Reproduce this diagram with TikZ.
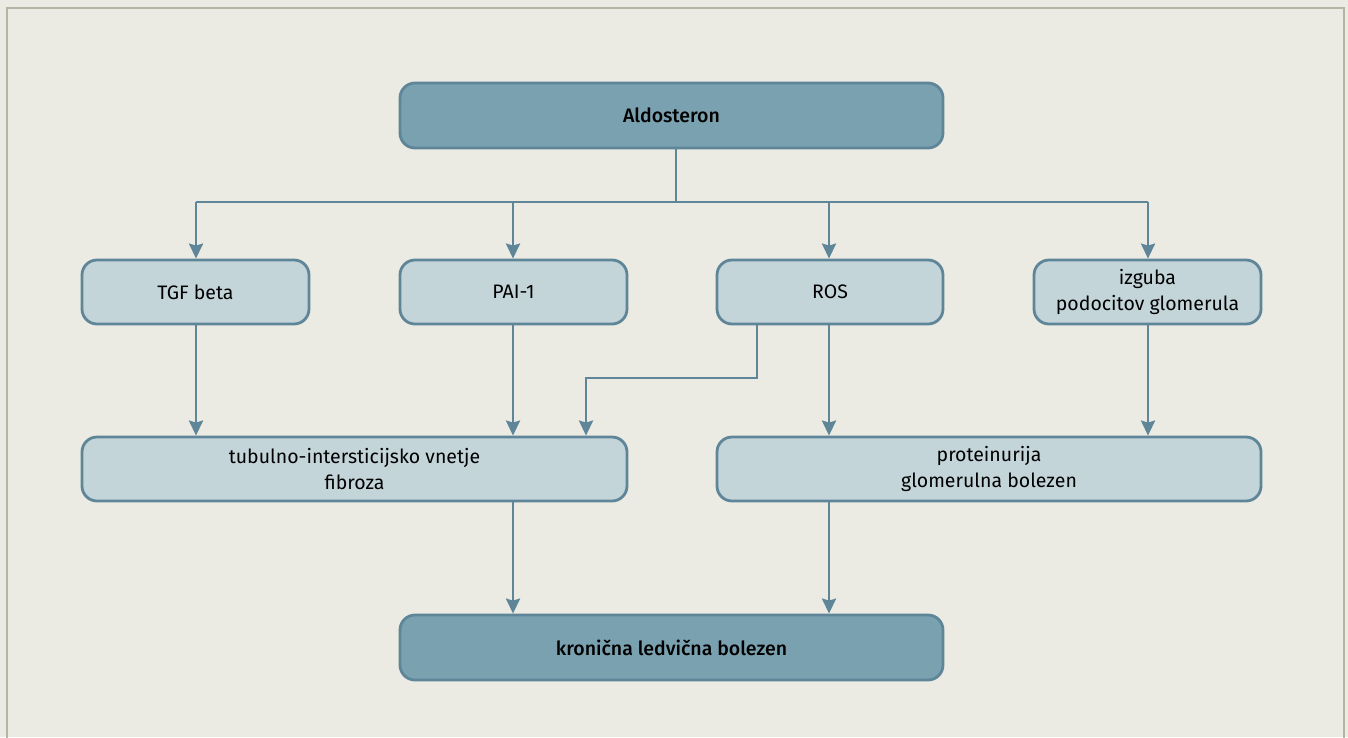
\documentclass[tikz,border=0pt]{standalone}
\usepackage{fontspec}
\setmainfont{Fira Sans}[BoldFont={Fira Sans Medium}]
\usetikzlibrary{arrows.meta}
\definecolor{bgc}{HTML}{EBEBE3}
\definecolor{framec}{HTML}{B5B5A5}
\definecolor{darkfill}{HTML}{7AA1B0}
\definecolor{lightfill}{HTML}{C4D5DA}
\definecolor{linec}{HTML}{5F8599}
\tikzset{
  box/.style={draw=linec, line width=2.8pt, rounded corners=15pt, align=center, inner sep=0pt, font=\fontsize{19.5}{26.5}\selectfont, text=black},
  darkbox/.style={box, fill=darkfill, font=\fontsize{19.5}{26.5}\selectfont\bfseries},
  lightbox/.style={box, fill=lightfill},
  conn/.style={draw=linec, line width=2.8pt},
  arr/.style={conn, -{Stealth[length=15pt,width=14pt,inset=2pt]}}
}
\begin{document}
\begin{tikzpicture}[x=1pt,y=-1pt]
\useasboundingbox (0,0) rectangle (1348,737);
\fill[bgc] (0,0) rectangle (1348,737);
\draw[framec, line width=2.2pt] (7,740) -- (7,8) -- (1344,8) -- (1344,740);
% nodes
\node[darkbox, minimum width=543pt, minimum height=65pt] (ald) at (671.5,115.5) {Aldosteron};
\node[lightbox, minimum width=227pt, minimum height=64pt] (tgf) at (195.5,292) {TGF beta};
\node[lightbox, minimum width=227pt, minimum height=64pt] (pai) at (513.5,292) {PAI-1};
\node[lightbox, minimum width=226pt, minimum height=64pt] (ros) at (830,292) {ROS};
\node[lightbox, minimum width=227pt, minimum height=64pt] (izg) at (1147.5,292) {izguba\\podocitov glomerula};
\node[lightbox, minimum width=545pt, minimum height=64pt] (tub) at (354.5,469) {tubulno-intersticijsko vnetje\\fibroza};
\node[lightbox, minimum width=544pt, minimum height=64pt] (pro) at (989,469) {proteinurija\\glomerulna bolezen};
\node[darkbox, minimum width=543pt, minimum height=65pt] (kro) at (671.5,647.5) {kronična ledvična bolezen};
% connectors
\coordinate (bus) at (676,202);
\draw[conn] (ald.south -| bus) -- (bus);
\draw[conn] (196,202) -- (1148,202);
\draw[arr] (196,202) -- (tgf.north -| 196,0);
\draw[arr] (513,202) -- (pai.north -| 513,0);
\draw[arr] (829,202) -- (ros.north -| 829,0);
\draw[arr] (1148,202) -- (izg.north -| 1148,0);
\draw[arr] (tgf.south -| 196,0) -- (tub.north -| 196,0);
\draw[arr] (pai.south -| 513,0) -- (tub.north -| 513,0);
\draw[arr] (ros.south -| 757,0) -- (757,378) -- (586,378) -- (tub.north -| 586,0);
\draw[arr] (ros.south -| 829,0) -- (pro.north -| 829,0);
\draw[arr] (izg.south -| 1148,0) -- (pro.north -| 1148,0);
\draw[arr] (tub.south -| 513,0) -- (kro.north -| 513,0);
\draw[arr] (pro.south -| 829,0) -- (kro.north -| 829,0);
\end{tikzpicture}
\end{document}
